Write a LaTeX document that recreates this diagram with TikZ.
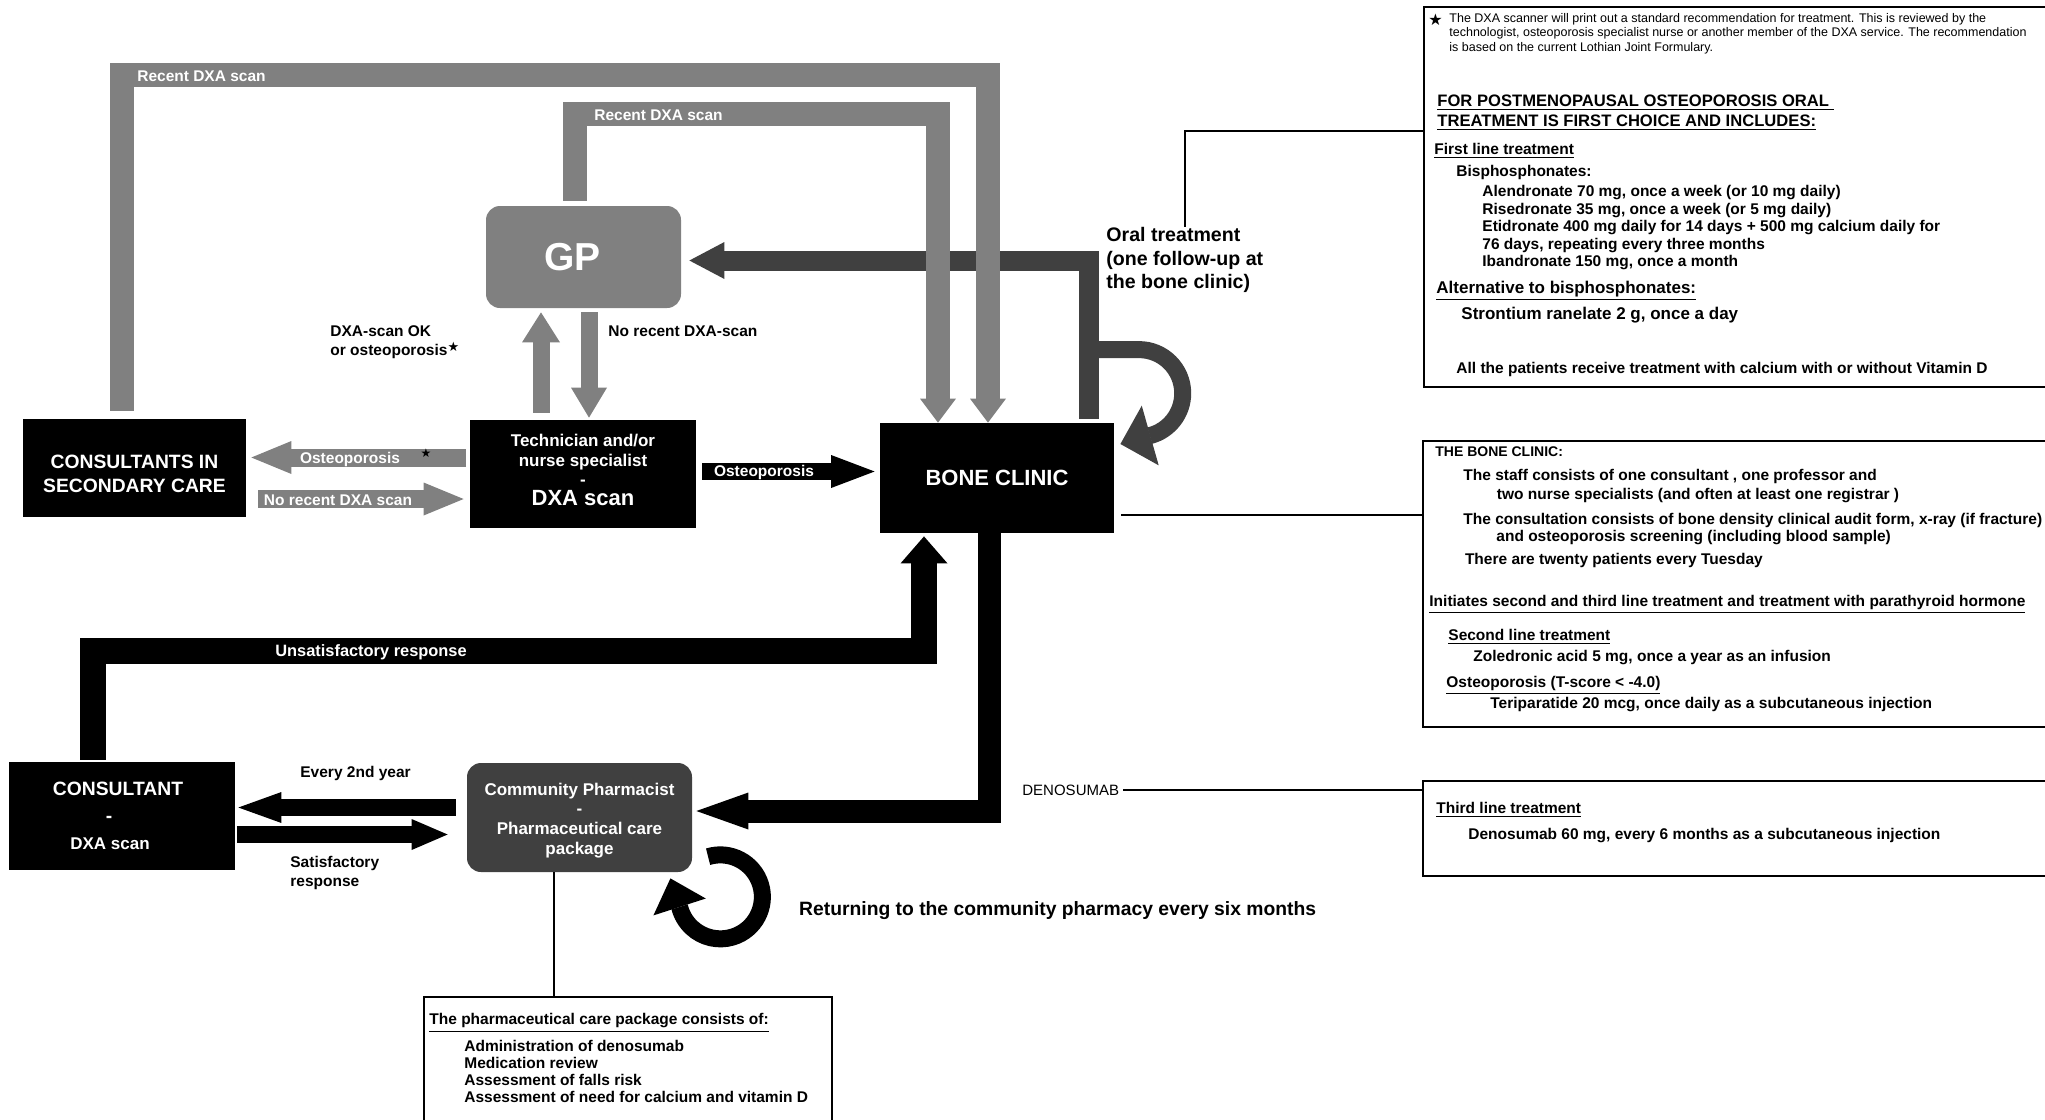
\documentclass[tikz,border=0pt]{standalone}
\usepackage{fontspec}
\setmainfont{Liberation Sans}
\newfontfamily\symfont{DejaVu Sans}
\usetikzlibrary{arrows.meta}
\definecolor{arrowgray}{HTML}{808080}
\definecolor{darkfill}{HTML}{404040}
\newcommand{\starmark}{{\symfont ★}}

\begin{document}
\begin{tikzpicture}[x=0.5pt, y=-0.5pt,
    box/.style={rectangle, fill=black, text=white, align=center, inner sep=0pt},
    roundbox/.style={rectangle, rounded corners=7pt, text=white, align=center, inner sep=0pt},
    notebox/.style={rectangle, draw, line width=1.2pt, inner sep=0pt},
    txt/.style={anchor=west, inner sep=0pt, align=left, font=\fontsize{7.75}{8.75}\selectfont\bfseries},
    wtxt/.style={inner sep=0pt, text=white, font=\fontsize{7.75}{9}\selectfont\bfseries},
    fat/.style n args={3}{line width=#1, line join=miter, -{Triangle[width=#2,length=#3,line width=0pt]}},
    leader/.style={draw, line width=1pt}]
		\path[use as bounding box, fill=white] (0,0) rectangle (2045,1119);

		% Boxes of the care pathway
		\node[roundbox, fill=arrowgray, minimum width=97.5pt, minimum height=51pt, font=\fontsize{19.5}{20}\selectfont\bfseries] (gp) at (583.5,257) {GP\kern11pt};
		\node[box, minimum width=113pt, minimum height=54pt, font=\fontsize{8.5}{9.75}\selectfont\bfseries] (dxa) at (583,474) {Technician and/or\\nurse specialist\\-\\{\fontsize{11}{11}\selectfont DXA scan}\rule[-4pt]{0pt}{4pt}};
		\node[box, minimum width=111.5pt, minimum height=49pt, font=\fontsize{9.65}{12}\selectfont\bfseries] (consec) at (134.5,468) {\rule{0pt}{12.4pt}CONSULTANTS IN\\SECONDARY CARE};
		\node[box, minimum width=117pt, minimum height=55pt, font=\fontsize{11}{12}\selectfont\bfseries] (bone) at (997,478) {BONE CLINIC};
		\node[box, minimum width=113pt, minimum height=54pt, font=\fontsize{9.65}{13.5}\selectfont\bfseries] (cons) at (122,816) {CONSULTANT\kern4pt\\-\kern13pt\\{\fontsize{8.5}{8.5}\selectfont DXA scan}\kern12pt};
		\node[roundbox, fill=darkfill, minimum width=112.5pt, minimum height=54.5pt, font=\fontsize{8.5}{9.85}\selectfont\bfseries] (pharm) at (579.5,817.5) {\rule{0pt}{9.1pt}Community Pharmacist\\-\\Pharmaceutical care\\package};

		% Note boxes
		\node[notebox, minimum width=318pt, minimum height=190pt] (noteA) at (1742,197) {};
		\node[notebox, minimum width=318.5pt, minimum height=143pt] (noteB) at (1741.5,584) {};
		\node[notebox, minimum width=318.5pt, minimum height=47.5pt] (noteC) at (1741.5,828.5) {};
		\node[notebox, minimum width=204pt, minimum height=66.5pt] (pkg) at (628,1063.5) {};

		% Oral treatment back to the GP
		\draw[fat={10pt}{18.5pt}{17.5pt}, draw=darkfill] ([xshift=45.75pt,yshift=2pt]bone.north) |- ([xshift=4pt,yshift=-1.75pt]gp.east);
		\draw[fat={8.5pt}{31pt}{15.5pt}, draw=darkfill] ([xshift=45.75pt,yshift=36.5pt]bone.north) -- ++(50.5,0) arc[start angle=-90, end angle=75.5, radius=43.7] -- ([xshift=3pt,yshift=17pt]bone.east);

		% Referrals with a recent DXA scan
		\draw[fat={12pt}{18pt}{12pt}, draw=arrowgray] ([xshift=-6.5pt,yshift=4pt]consec.north) -- ++(0,-335.5) -| ([xshift=-4.5pt]bone.north);
		\draw[fat={12pt}{18pt}{12pt}, draw=arrowgray] ([xshift=-4.25pt,yshift=2.5pt]gp.north) -- ++(0,-87) -| ([xshift=-29.5pt]bone.north);
		\node[wtxt] (recent_outer) at (201.5,76.5) {Recent DXA scan};
		\node[wtxt] (recent_inner) at (658.5,115) {Recent DXA scan};

		% GP and DXA scan
		\draw[fat={8.5pt}{19pt}{15pt}, draw=arrowgray] ([xshift=-21pt,yshift=3.5pt]dxa.north) -- ([xshift=-21.25pt,yshift=-2pt]gp.south);
		\draw[fat={8.5pt}{18pt}{15pt}, draw=arrowgray] ([xshift=2.75pt,yshift=-2pt]gp.south) -- ([xshift=3pt,yshift=1pt]dxa.north);
		\node[txt, font=\fontsize{7.75}{9.5}\selectfont\bfseries] (ok_label) at (330,342.5) {DXA-scan OK\\or osteoporosis\raisebox{2pt}{\fontsize{6.5}{6.5}\selectfont\starmark}};
		\node[txt] (norecent_label) at (608,331) {No recent DXA-scan};

		% Secondary care and DXA scan
		\draw[fat={9pt}{16.5pt}{20pt}, draw=arrowgray] ([xshift=-1.75pt,yshift=8.25pt]dxa.west) -- ([xshift=2.5pt,yshift=5.25pt]consec.east);
		\draw[fat={9pt}{16.5pt}{20pt}, draw=arrowgray] ([xshift=5.8pt,yshift=-15.5pt]consec.east) -- ([xshift=-3pt,yshift=-12.5pt]dxa.west);
		\node[wtxt] (ost_gray) at (350,459) {Osteoporosis};
		\node[inner sep=0pt, font=\fontsize{6}{6}\selectfont] (ost_star) at (426,453) {\starmark};
		\node[wtxt] (norecent_gray) at (338,500) {No recent DXA scan};

		% DXA scan to the bone clinic
		\draw[fat={8.5pt}{16.5pt}{21.75pt}] ([xshift=2.8pt,yshift=1.25pt]dxa.east) -- ([xshift=-2.5pt,yshift=3.25pt]bone.west);
		\node[wtxt] (ost_black) at (764,472) {Osteoporosis};

		% Bone clinic, consultant and community pharmacist
		\draw[fat={11.5pt}{18.5pt}{26pt}] ([xshift=-4pt]bone.south) |- ([xshift=2pt,yshift=3.25pt]pharm.east);
		\draw[fat={13pt}{23.5pt}{13.5pt}] ([xshift=-14.5pt,yshift=1pt]cons.north) -- ++(0,-109) -| ([xshift=-36.5pt,yshift=-1.5pt]bone.south);
		\node[wtxt, font=\fontsize{8.2}{9}\selectfont\bfseries] (unsat) at (371,652) {Unsatisfactory response};
		\draw[fat={8.5pt}{15.5pt}{21.5pt}] ([xshift=-5.5pt,yshift=5pt]pharm.west) -- ([xshift=1.5pt,yshift=4.25pt]cons.east);
		\draw[fat={8.5pt}{15.5pt}{18pt}] ([xshift=0.75pt,yshift=-9.25pt]cons.east) -- ([xshift=-9.5pt,yshift=-8.5pt]pharm.west);
		\node[txt] (every2) at (300,773) {Every 2nd year};
		\node[txt, font=\fontsize{7.75}{9.5}\selectfont\bfseries] (satis) at (290,872.5) {Satisfactory\\response};
		\draw[fat={8.5pt}{27.5pt}{15pt}] ([xshift=7.85pt,yshift=7.85pt]pharm.south east) arc[start angle=-107, end angle=166, radius=42] -- ([xshift=-11pt,yshift=-3pt]pharm.south east);
		\node[txt, font=\fontsize{9.65}{11}\selectfont\bfseries] (returning) at (798.8,910.5) {Returning to the community pharmacy every six months};

		% Labels and leader lines to the notes
		\node[txt, font=\fontsize{9.8}{11.75}\selectfont\bfseries] (oral) at (1106,260) {Oral treatment\\(one follow-up at\\the bone clinic)};
		\draw[leader] (oral.north) |- ([yshift=-62.5pt]noteA.north west);
		\draw[leader] ([xshift=3.5pt,yshift=-18.5pt]bone.east) -- ([yshift=34.5pt]noteB.west);
		\node[txt, font=\fontsize{7.5}{8}\selectfont] (deno) at (1022,790) {DENOSUMAB};
		\draw[leader] ([xshift=2pt]deno.east) -- ([yshift=19.25pt]noteC.west);
		\draw[leader] ([xshift=-12.75pt]pharm.south) -- ([xshift=-37pt]pkg.north);

		% Text of the first note
		\node[inner sep=0pt, anchor=west, font=\fontsize{8}{8}\selectfont] (note_star) at (1428,19.5) {\starmark};
		\node[txt, font=\fontsize{6.25}{7.25}\selectfont] (dxanote) at (1449,33.5) {The DXA scanner will print out a standard recommendation for treatment. This is reviewed by the\\technologist, osteoporosis specialist nurse or another member of the DXA service. The recommendation\\is based on the current Lothian Joint Formulary.};
		\node[txt, font=\fontsize{8.3}{10}\selectfont\bfseries] (oralhead) at (1437,113) {\underline{FOR POSTMENOPAUSAL OSTEOPOROSIS ORAL\ }\\\underline{TREATMENT IS FIRST CHOICE AND INCLUDES:}};
		\node[txt] (firstline) at (1434,151) {\underline{First line treatment}};
		\node[txt] (bisph) at (1456,172) {Bisphosphonates:};
		\node[txt] (firstlist) at (1482,228) {Alendronate 70 mg, once a week (or 10 mg daily)\\Risedronate 35 mg, once a week (or 5 mg daily)\\Etidronate 400 mg daily for 14 days + 500 mg calcium daily for\\76 days, repeating every three months\\Ibandronate 150 mg, once a month};
		\node[txt, font=\fontsize{8.5}{9}\selectfont\bfseries] (althead) at (1436,291) {\underline{Alternative to bisphosphonates:}};
		\node[txt, font=\fontsize{8.5}{9}\selectfont\bfseries] (stront) at (1461,315) {Strontium ranelate 2 g, once a day};
		\node[txt] (calcium) at (1456,369) {All the patients receive treatment with calcium with or without Vitamin D};

		% Text of the bone clinic note
		\node[txt, font=\fontsize{7}{8}\selectfont\bfseries] (clinichead) at (1435,452) {THE BONE CLINIC:};
		\node[txt] (staff1) at (1463,476) {The staff consists of one consultant , one professor and};
		\node[txt] (staff2) at (1496.5,496) {two nurse specialists (and often at least one registrar )};
		\node[txt] (consult1) at (1463,520.7) {The consultation consists of bone density clinical audit form, x-ray (if fracture)};
		\node[txt] (consult2) at (1496,538) {and osteoporosis screening (including blood sample)};
		\node[txt] (tuesday) at (1464.6,560.7) {There are twenty patients every Tuesday};
		\node[txt] (initiates) at (1429,604) {\underline{Initiates second and third line treatment and treatment with parathyroid hormone}};
		\node[txt] (secondline) at (1448,636.7) {\underline{Second line treatment}};
		\node[txt] (zoled) at (1473,658) {Zoledronic acid 5 mg, once a year as an infusion};
		\node[txt] (tscore) at (1446,685) {\underline{Osteoporosis (T-score < -4.0)}};
		\node[txt] (teri) at (1490,705) {Teriparatide 20 mcg, once daily as a subcutaneous injection};

		% Text of the third line note
		\node[txt] (thirdline) at (1436,810) {\underline{Third line treatment}};
		\node[txt] (denotext) at (1468,836) {Denosumab 60 mg, every 6 months as a subcutaneous injection};

		% Text of the care package note
		\node[txt] (pkghead) at (429,1023) {\underline{The pharmaceutical care package consists of:}};
		\node[txt, font=\fontsize{7.75}{8.5}\selectfont\bfseries] (pkglist) at (464,1071.5) {Administration of denosumab\\Medication review\\Assessment of falls risk\\Assessment of need for calcium and vitamin D};
\end{tikzpicture}
\end{document}
